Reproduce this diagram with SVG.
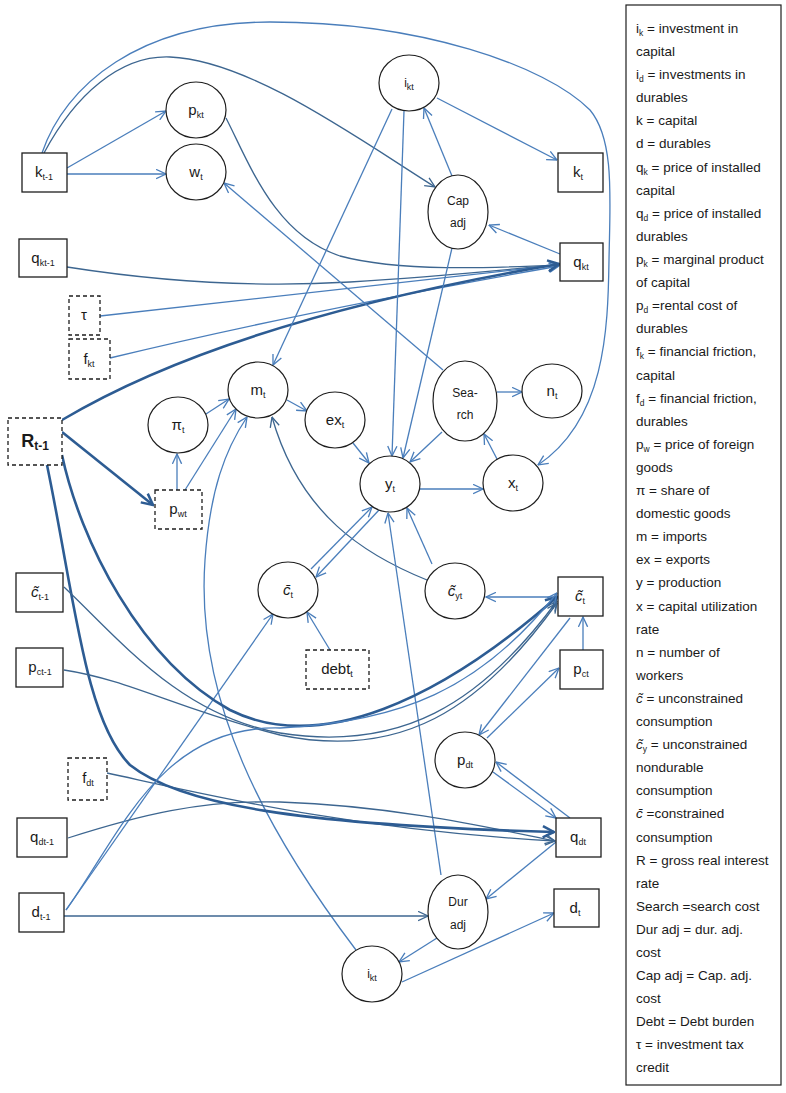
<svg xmlns="http://www.w3.org/2000/svg" width="786" height="1093" viewBox="0 0 786 1093">
<defs>
<style>
.c{fill:none;stroke:#4a7ebb;stroke-width:1.3}
.d{fill:none;stroke:#3d6690;stroke-width:1.3}
.t{fill:none;stroke:#2d5c93;stroke-width:2.6}
.e{fill:#fff;stroke:#1e1e1e;stroke-width:1.2}
.r{fill:#fff;stroke:#1e1e1e;stroke-width:1.3}
.dr{fill:#fff;stroke:#1e1e1e;stroke-width:1.3;stroke-dasharray:4 3}
text{font-family:"Liberation Sans",Arial,sans-serif;fill:#1a1a1a}
.lb{font-size:15px;text-anchor:middle}
.sm{font-size:12px;text-anchor:middle}
.s{font-size:9px}
.lg{font-size:13.5px}
.ls{font-size:8.5px}
.it{font-style:italic}
</style>
<marker id="a" viewBox="0 0 10 10" refX="9.5" refY="5" markerWidth="11" markerHeight="11" markerUnits="userSpaceOnUse" orient="auto"><path d="M0.5,0.8 L9.5,5 L0.5,9.2" fill="none" stroke="#4a7ebb" stroke-width="1.2"/></marker>
<marker id="ad" viewBox="0 0 10 10" refX="9.5" refY="5" markerWidth="11" markerHeight="11" markerUnits="userSpaceOnUse" orient="auto"><path d="M0.5,0.8 L9.5,5 L0.5,9.2" fill="none" stroke="#3d6690" stroke-width="1.2"/></marker>
<marker id="at" viewBox="0 0 10 10" refX="9" refY="5" markerWidth="14" markerHeight="14" markerUnits="userSpaceOnUse" orient="auto"><path d="M1,1 L9,5 L1,9" fill="none" stroke="#2d5c93" stroke-width="1.8"/></marker>
</defs>
<rect width="786" height="1093" fill="#fff"/>

<g id="connectors">
<path class="c" marker-end="url(#a)" d="M67,168 L166,111"/>
<path class="c" marker-end="url(#a)" d="M67,174 L166,174"/>
<path class="c" marker-end="url(#a)" d="M42,153 C65,85 140,22 270,22 C420,22 545,65 590,110 C615,140 610,200 609,260 C608,330 605,420 538,465"/>
<path class="d" marker-end="url(#ad)" d="M44,153 C75,95 120,55 170,57 C250,60 360,140 435,187"/>
<path class="d" marker-end="url(#ad)" d="M226,118 C250,165 275,235 340,256 C400,272 490,268 559,265"/>
<path class="d" marker-end="url(#ad)" d="M67,267 C150,280 250,288 350,282 C450,276 520,268 559,265"/>
<path class="c" marker-end="url(#a)" d="M100,316 L559,265"/>
<path class="c" marker-end="url(#a)" d="M110,358 Q300,312 559,266"/>
<path class="t" marker-end="url(#at)" d="M62,420 Q230,320 559,264"/>
<path class="c" marker-end="url(#a)" d="M560,254 L489,225"/>
<path class="c" marker-end="url(#a)" d="M452,176 L424,108"/>
<path class="c" marker-end="url(#a)" d="M437,98 L557,160"/>
<path class="c" marker-end="url(#a)" d="M392,109 L273,365"/>
<path class="c" marker-end="url(#a)" d="M404,111 L392,456"/>
<path class="c" marker-end="url(#a)" d="M452,248 L403,458"/>
<path class="c" marker-end="url(#a)" d="M443,370 L224,183"/>
<path class="c" marker-end="url(#a)" d="M442,432 L410,462"/>
<path class="c" marker-end="url(#a)" d="M497,392 L522,392"/>
<path class="c" marker-end="url(#a)" d="M497,459 L484,434"/>
<path class="c" marker-end="url(#a)" d="M420,489 L483,489"/>
<path class="c" marker-end="url(#a)" d="M287,400 L307,411"/>
<path class="c" marker-end="url(#a)" d="M353,443 L369,463"/>
<path class="c" marker-end="url(#a)" d="M206,414 L229,399"/>
<path class="c" marker-end="url(#a)" d="M177,490 L177,454"/>
<path class="c" marker-end="url(#a)" d="M185,490 L236,409"/>
<path class="t" marker-end="url(#at)" d="M62,432 L153,505"/>
<path class="c" marker-end="url(#a)" d="M356,950 C265,830 195,700 205,560 C210,490 225,450 247,417"/>
<path class="d" marker-end="url(#ad)" d="M427,580 C365,555 300,515 272,417"/>
<path class="c" marker-end="url(#a)" d="M432,564 L407,508"/>
<path class="c" marker-end="url(#a)" d="M311,569 L372,507"/>
<path class="c" marker-end="url(#a)" d="M379,510 L316,577"/>
<path class="c" marker-end="url(#a)" d="M330,650 L307,612"/>
<path class="c" marker-end="url(#a)" d="M441,875 L388,513"/>
<path class="c" marker-end="url(#a)" d="M558,597 L486,597"/>
<path class="c" marker-end="url(#a)" d="M583,650 L583,617"/>
<path class="c" marker-end="url(#a)" d="M570,618 L479,735"/>
<path class="c" marker-end="url(#a)" d="M487,738 L559,668"/>
<path class="c" marker-end="url(#a)" d="M493,772 L556,818"/>
<path class="c" marker-end="url(#a)" d="M570,818 L496,762"/>
<path class="c" marker-end="url(#a)" d="M556,842 L486,899"/>
<path class="d" marker-end="url(#ad)" d="M64,916 L428,916"/>
<path class="c" marker-end="url(#a)" d="M66,910 L273,614"/>
<path class="c" marker-end="url(#a)" d="M437,938 L399,962"/>
<path class="c" marker-end="url(#a)" d="M402,982 L554,913"/>
<path class="d" marker-end="url(#ad)" d="M107,773 C200,793 350,830 555,841"/>
<path class="d" marker-end="url(#ad)" d="M68,838 C140,815 200,800 280,802 C400,806 500,830 555,841"/>
<path class="t" marker-end="url(#at)" d="M47,465 C75,600 85,720 130,765 C180,805 300,825 554,832"/>
<path class="t" marker-end="url(#at)" d="M62,455 C80,540 140,660 230,710 C320,755 440,700 557,597"/>
<path class="d" marker-end="url(#ad)" d="M64,587 C120,640 180,715 280,733 C400,752 480,705 557,601"/>
<path class="d" marker-end="url(#ad)" d="M64,670 C130,680 180,710 280,735 C400,760 480,710 557,603"/>
<path class="c" marker-end="url(#a)" d="M66,910 C120,835 160,725 280,728 C400,722 480,690 557,593"/>
</g>

<g id="n_kt1"><rect class="r" x="22" y="153" width="45" height="39"/><text class="lb" x="44" y="177">k<tspan class="s" dy="3">t-1</tspan></text></g>
<g id="n_qkt1"><rect class="r" x="19" y="239" width="48" height="38"/><text class="lb" x="43" y="263">q<tspan class="s" dy="3">kt-1</tspan></text></g>
<g id="n_tau"><rect class="dr" x="69" y="296" width="31" height="39"/><text class="lb" x="84" y="320">τ</text></g>
<g id="n_fkt"><rect class="dr" x="69" y="339" width="41" height="40"/><text class="lb" x="89" y="364">f<tspan class="s" dy="3">kt</tspan></text></g>
<g id="n_R"><rect class="dr" x="8" y="418" width="54" height="47"/><text x="35" y="447" style="font-size:18px;font-weight:bold;text-anchor:middle">R<tspan dy="3" style="font-size:12px">t-1</tspan></text></g>
<g id="n_pkt"><ellipse class="e" cx="196" cy="110" rx="30" ry="28"/><text class="lb" x="196" y="115">p<tspan class="s" dy="3">kt</tspan></text></g>
<g id="n_wt"><ellipse class="e" cx="196" cy="172" rx="30" ry="28"/><text class="lb" x="196" y="177">w<tspan class="s" dy="3">t</tspan></text></g>
<g id="n_ikt"><ellipse class="e" cx="409" cy="83" rx="30" ry="28"/><text class="sm" x="409" y="87">i<tspan class="s" dy="3">kt</tspan></text></g>
<g id="n_capadj"><ellipse class="e" cx="458" cy="212" rx="30" ry="37"/><text class="sm" x="458" y="205">Cap</text><text class="sm" x="458" y="227">adj</text></g>
<g id="n_kt"><rect class="r" x="558" y="153" width="45" height="39"/><text class="lb" x="578" y="177">k<tspan class="s" dy="3">t</tspan></text></g>
<g id="n_qkt"><rect class="r" x="560" y="243" width="43" height="38"/><text class="lb" x="581" y="267">q<tspan class="s" dy="3">kt</tspan></text></g>
<g id="n_pit"><ellipse class="e" cx="178" cy="425" rx="30" ry="28"/><text class="lb" x="178" y="430">π<tspan class="s" dy="3">t</tspan></text></g>
<g id="n_mt"><ellipse class="e" cx="258" cy="390" rx="30" ry="28"/><text class="lb" x="258" y="395">m<tspan class="s" dy="3">t</tspan></text></g>
<g id="n_ext"><ellipse class="e" cx="335" cy="420" rx="30" ry="28"/><text class="lb" x="335" y="425">ex<tspan class="s" dy="3">t</tspan></text></g>
<g id="n_yt"><ellipse class="e" cx="390" cy="484" rx="30" ry="28"/><text class="lb" x="390" y="489">y<tspan class="s" dy="3">t</tspan></text></g>
<g id="n_search"><ellipse class="e" cx="465" cy="401" rx="32" ry="40"/><text class="sm" x="465" y="397">Sea-</text><text class="sm" x="465" y="419">rch</text></g>
<g id="n_nt"><ellipse class="e" cx="552" cy="391" rx="30" ry="27"/><text class="lb" x="552" y="396">n<tspan class="s" dy="3">t</tspan></text></g>
<g id="n_xt"><ellipse class="e" cx="513" cy="483" rx="30" ry="28"/><text class="lb" x="513" y="488">x<tspan class="s" dy="3">t</tspan></text></g>
<g id="n_pwt"><rect class="dr" x="155" y="490" width="47" height="39"/><text class="lb" x="178" y="514">p<tspan class="s" dy="3">wt</tspan></text></g>
<g id="n_ctil1"><rect class="r" x="16" y="573" width="47" height="39"/><text class="lb" x="40" y="597"><tspan class="it">c̃</tspan><tspan class="s" dy="3">t-1</tspan></text></g>
<g id="n_pct1"><rect class="r" x="16" y="648" width="47" height="39"/><text class="lb" x="40" y="672">p<tspan class="s" dy="3">ct-1</tspan></text></g>
<g id="n_cbar"><ellipse class="e" cx="288" cy="590" rx="30" ry="28"/><text class="lb" x="288" y="595"><tspan class="it">c̄</tspan><tspan class="s" dy="3">t</tspan></text></g>
<g id="n_cyt"><ellipse class="e" cx="455" cy="591" rx="30" ry="28"/><text class="lb" x="455" y="596"><tspan class="it">c̃</tspan><tspan class="s" dy="3">yt</tspan></text></g>
<g id="n_ct"><rect class="r" x="558" y="577" width="45" height="39"/><text class="lb" x="580" y="601"><tspan class="it">c̃</tspan><tspan class="s" dy="3">t</tspan></text></g>
<g id="n_pct"><rect class="r" x="560" y="650" width="43" height="39"/><text class="lb" x="581" y="674">p<tspan class="s" dy="3">ct</tspan></text></g>
<g id="n_debt"><rect class="dr" x="306" y="650" width="63" height="39"/><text class="lb" x="337" y="674">debt<tspan class="s" dy="3">t</tspan></text></g>
<g id="n_pdt"><ellipse class="e" cx="465" cy="760" rx="30" ry="28"/><text class="lb" x="465" y="765">p<tspan class="s" dy="3">dt</tspan></text></g>
<g id="n_fdt"><rect class="dr" x="68" y="758" width="39" height="42"/><text class="lb" x="88" y="783">f<tspan class="s" dy="3">dt</tspan></text></g>
<g id="n_qdt1"><rect class="r" x="17" y="818" width="50" height="39"/><text class="lb" x="42" y="842">q<tspan class="s" dy="3">dt-1</tspan></text></g>
<g id="n_qdt"><rect class="r" x="556" y="818" width="45" height="39"/><text class="lb" x="578" y="842">q<tspan class="s" dy="3">dt</tspan></text></g>
<g id="n_dt1"><rect class="r" x="19" y="893" width="45" height="39"/><text class="lb" x="41" y="917">d<tspan class="s" dy="3">t-1</tspan></text></g>
<g id="n_duradj"><ellipse class="e" cx="458" cy="912" rx="30" ry="37"/><text class="sm" x="458" y="906">Dur</text><text class="sm" x="458" y="929">adj</text></g>
<g id="n_dt"><rect class="r" x="554" y="889" width="45" height="38"/><text class="lb" x="575" y="913">d<tspan class="s" dy="3">t</tspan></text></g>
<g id="n_ikt2"><ellipse class="e" cx="372" cy="974" rx="30" ry="28"/><text class="sm" x="372" y="978">i<tspan class="s" dy="3">kt</tspan></text></g>

<g id="legend">
<rect x="626" y="5" width="155" height="1080" fill="#fff" stroke="#1e1e1e" stroke-width="1.2"/>
<text class="lg" x="636" y="33">i<tspan class="ls" dy="3">k</tspan><tspan dy="-3"> = investment in</tspan></text>
<text class="lg" x="636" y="56">capital</text>
<text class="lg" x="636" y="79">i<tspan class="ls" dy="3">d</tspan><tspan dy="-3"> = investments in</tspan></text>
<text class="lg" x="636" y="102">durables</text>
<text class="lg" x="636" y="125">k = capital</text>
<text class="lg" x="636" y="148">d = durables</text>
<text class="lg" x="636" y="172">q<tspan class="ls" dy="3">k</tspan><tspan dy="-3"> = price of installed</tspan></text>
<text class="lg" x="636" y="195">capital</text>
<text class="lg" x="636" y="218">q<tspan class="ls" dy="3">d</tspan><tspan dy="-3"> = price of installed</tspan></text>
<text class="lg" x="636" y="241">durables</text>
<text class="lg" x="636" y="264">p<tspan class="ls" dy="3">k</tspan><tspan dy="-3"> = marginal product</tspan></text>
<text class="lg" x="636" y="287">of capital</text>
<text class="lg" x="636" y="310">p<tspan class="ls" dy="3">d</tspan><tspan dy="-3"> =rental cost of</tspan></text>
<text class="lg" x="636" y="333">durables</text>
<text class="lg" x="636" y="356">f<tspan class="ls" dy="3">k</tspan><tspan dy="-3"> = financial friction,</tspan></text>
<text class="lg" x="636" y="380">capital</text>
<text class="lg" x="636" y="403">f<tspan class="ls" dy="3">d</tspan><tspan dy="-3"> = financial friction,</tspan></text>
<text class="lg" x="636" y="426">durables</text>
<text class="lg" x="636" y="449">p<tspan class="ls" dy="3">w</tspan><tspan dy="-3"> = price of foreign</tspan></text>
<text class="lg" x="636" y="472">goods</text>
<text class="lg" x="636" y="495"> π = share of</text>
<text class="lg" x="636" y="518">domestic goods</text>
<text class="lg" x="636" y="541">m = imports</text>
<text class="lg" x="636" y="564">ex = exports</text>
<text class="lg" x="636" y="587">y = production</text>
<text class="lg" x="636" y="611">x = capital utilization</text>
<text class="lg" x="636" y="634">rate</text>
<text class="lg" x="636" y="657">n = number of</text>
<text class="lg" x="636" y="680">workers</text>
<text class="lg" x="636" y="703"><tspan class="it">c̃</tspan> = unconstrained</text>
<text class="lg" x="636" y="726">consumption</text>
<text class="lg" x="636" y="749"><tspan class="it">c̃</tspan><tspan class="ls" dy="3">y</tspan><tspan dy="-3"> = unconstrained</tspan></text>
<text class="lg" x="636" y="772">nondurable</text>
<text class="lg" x="636" y="795">consumption</text>
<text class="lg" x="636" y="818"><tspan class="it">c̄</tspan> =constrained</text>
<text class="lg" x="636" y="842">consumption</text>
<text class="lg" x="636" y="865">R = gross real interest</text>
<text class="lg" x="636" y="888">rate</text>
<text class="lg" x="636" y="911">Search =search cost</text>
<text class="lg" x="636" y="934">Dur adj = dur. adj.</text>
<text class="lg" x="636" y="957">cost</text>
<text class="lg" x="636" y="980">Cap adj = Cap. adj.</text>
<text class="lg" x="636" y="1003">cost</text>
<text class="lg" x="636" y="1026">Debt = Debt burden</text>
<text class="lg" x="636" y="1049">τ = investment tax</text>
<text class="lg" x="636" y="1072">credit</text>
</g>
</svg>
